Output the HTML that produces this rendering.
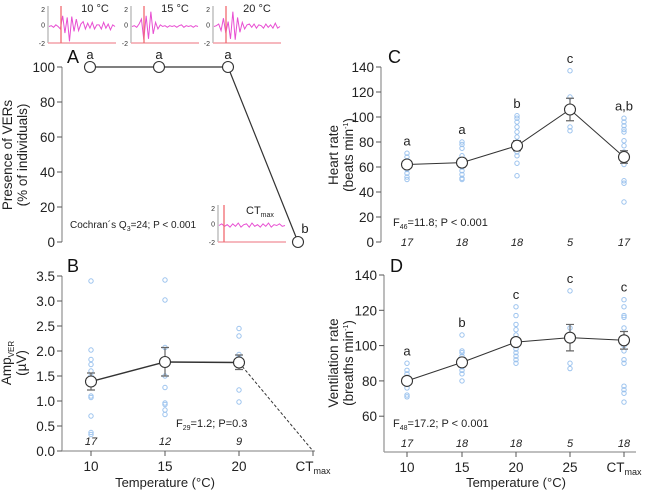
<!DOCTYPE html>
<html><head><meta charset="utf-8"><style>
body{margin:0;background:#fff}
svg{display:block;font-family:"Liberation Sans",Arial,sans-serif}
</style></head><body>
<svg id="fig" width="647" height="492" viewBox="0 0 647 492"></svg>
<script>
// Panel A data
const catsA = ["10","15","20","CTmax"];
const presence = [100,100,100,0];
const lettersA = ["a","a","a","b"];
// Panel B data
const catsB = ["10","15","20","CTmax"];
const ampMean = [1.39,1.78,1.77];
const ampLo = [1.22,1.50,1.63];
const ampHi = [1.56,2.07,1.92];
const ampPts = [[3.4,2.02,1.83,1.73,1.6,1.5,1.45,1.4,1.1,1.07,0.7,0.37,0.33],[3.42,3.02,2.07,1.5,1.27,0.96,0.93,0.82,0.73],[2.45,2.3,1.93,1.87,1.22,0.98]];
const nB = ["17","12","9"];
// Panel C data
const catsC = ["10","15","20","25","CTmax"];
const hrMean = [62,63.5,77,106,68];
const hrLo = [59,60,73,97,63];
const hrHi = [65,67,81,115,73];
const hrPts = [[71,68,65,62,58,55,52,50],[80,78,75,69,66,60,57,54,51,50],[101,99,96,92,88,84,80,76,72,69,63,53],[137,116,92,89],[99,96,93,90,88,81,77,72,65,62,49,47,32]];
const lettersC = ["a","a","b","c","a,b"];
const nC = ["17","18","18","5","17"];
// Panel D data
const vrMean = [80,90.5,102,104.5,103];
const vrLo = [78,88,100,97,98];
const vrHi = [82,93,104,112,108];
const vrPts = [[90,86,84,82,78,76,72,71],[106,97,96,94,92,90,88,86,84,80],[122,117,112,109,106,104,100,98,96,94,92,90],[131,110,90,87],[126,122,117,116,110,104,100,97,92,90,77,75,73,68]];
const lettersD = ["a","b","c","c","c"];
const nD = ["17","18","18","5","18"];
const ticksA = [0,20,40,60,80,100];
const ticksB = [0,0.5,1,1.5,2,2.5,3,3.5];
const ticksC = [0,20,40,60,80,100,120,140];
const ticksD = [60,80,100,120,140];
// inset waveforms (decorative)
const w10 = [0,0.1,-0.1,0.2,0,-0.3,1.3,-0.8,1.1,-1.8,1.2,-0.6,0.9,-0.5,0.3,0.6,-0.3,0.4,-0.2,0.5,-0.3,0.2,0.2,-0.3,0.5,-0.2,0.3,-0.4,0.2,0];
const w15 = [0,0.1,-0.1,0.3,0.9,-1.6,1.3,-1.5,1.8,-0.9,0.5,-0.3,0.2,0,0.1,-0.1,0.1,0,0.1,-0.1,0.1,0.2,-0.1,0.1,0,0.1,-0.1,0.1,0];
const w20 = [0,0.1,0.3,-0.5,1,-0.8,0.6,-1.5,1.8,-1.6,1.1,-0.7,0.5,-0.3,0.2,0.3,-0.1,0.3,-0.2,0.2,0.1,-0.2,0.3,-0.1,0.2,-0.2,0.4,-0.2,0];
const wCT = [0,0.2,-0.1,0.1,-0.2,0.2,-0.1,0.3,-0.2,0.1,0.2,-0.2,0.3,-0.1,0.1,-0.2,0.2,-0.1,0.3,-0.2,0.1,0,0.2,-0.1,0];

const S = document.getElementById('fig');
const NS = 'http://www.w3.org/2000/svg';
function mk(tag, at, parent, txt){const e=document.createElementNS(NS,tag);for(const k in at)e.setAttribute(k,at[k]);if(txt!==undefined)e.textContent=txt;(parent||S).appendChild(e);return e;}
function lin(d0,d1,r0,r1){return v=>r0+(v-d0)*(r1-r0)/(d1-d0);}

function yAxis(g,x,sc,ticks,fmt,top,bot){
  const ax=mk('line',{x1:x,x2:x,y1:top,y2:bot,stroke:'#999','stroke-width':1.3},g);
  
  ticks.forEach(t=>{
    const l=mk('line',{x1:x-5,x2:x,y1:sc(t),y2:sc(t),stroke:'#555'},g);
    
    const tx=mk('text',{x:x-7,y:sc(t)+5,'text-anchor':'end','font-size':13.5,fill:'#222'},g,fmt(t));
    
  });
}
function xAxis(g,y,x0,x1,xs,cats){
  const ax=mk('line',{x1:x0,x2:x1,y1:y,y2:y,stroke:'#999','stroke-width':1.3},g);
  
  cats.forEach((c,i)=>{
    const l=mk('line',{x1:xs[i],x2:xs[i],y1:y,y2:y+5,stroke:'#555'},g);
    
    const t=mk('text',{x:xs[i],y:y+20,'text-anchor':'middle','font-size':13.5,fill:'#222'},g);
    
    if(c==='CTmax'){t.textContent='CT';mk('tspan',{'font-size':9,dy:3},t,'max');}else t.textContent=c;
  });
}
function dots(g,xs,sc,pts){
  pts.forEach((arr,i)=>arr.forEach(v=>{
    const c=mk('circle',{cx:xs[i],cy:sc(v),r:2.2,fill:'none',stroke:'#9cc3ee','stroke-width':1},g);
    
  }));
}
function errs(g,xs,sc,lo,hi){
  lo.forEach((v,i)=>{
    const e=mk('path',{d:`M${xs[i]},${sc(v)}V${sc(hi[i])}M${xs[i]-4},${sc(v)}h8M${xs[i]-4},${sc(hi[i])}h8`,stroke:'#666','stroke-width':1.2,fill:'none'},g);
    
  });
}
function meanLine(g,xs,sc,m,w){
  const p=mk('polyline',{points:m.map((v,i)=>xs[i]+','+sc(v)).join(' '),fill:'none',stroke:'#333','stroke-width':w||1},g);
  
  m.forEach((v,i)=>{
    const c=mk('circle',{cx:xs[i],cy:sc(v),r:5.5,fill:'#fff',stroke:'#333','stroke-width':1.1},g);
    
  });
}
function labels(g,xs,ys,arr,dy,name,italic,size){
  arr.forEach((t,i)=>{
    const e=mk('text',{x:xs[i],y:ys(i)+dy,'text-anchor':'middle','font-size':size||13,fill:'#222','font-style':italic?'italic':'normal'},g,t);
    
  });
}
function ytitle(g,x,y,l1,l2){
  const t=mk('text',{transform:`translate(${x},${y}) rotate(-90)`,'text-anchor':'middle','font-size':13.5,fill:'#222'},g);
  
  mk('tspan',{x:0,y:0},t,l1);
  mk('tspan',{x:0,y:15},t,l2);
  return t;
}
function inset(x0,y0,wave,label,lblx,name){
  const g=mk('g',{});
  const h=37,w=68;
  mk('line',{x1:x0,x2:x0,y1:y0,y2:y0+h,stroke:'#888','stroke-width':0.8},g);
  mk('line',{x1:x0,x2:x0+w,y1:y0+h,y2:y0+h,stroke:'#f4a0a8','stroke-width':1.5},g);
  [['2',4],['0',h/2+1],['-2',h+1]].forEach(a=>mk('text',{x:x0-3,y:y0+a[1]+2,'text-anchor':'end','font-size':7,fill:'#333'},g,a[0]));
  const sy=lin(-2,2,y0+h,y0+4);
  const sx=i=>x0+1+i*(w-2)/(wave.length-1);
  mk('polyline',{points:wave.map((v,i)=>sx(i)+','+sy(v)).join(' '),fill:'none',stroke:'#e84fd2','stroke-width':1},g);
  const rx = name==='inset-ctmax'?x0+6:x0+13;
  mk('line',{x1:rx,x2:rx,y1:y0,y2:y0+h,stroke:'#f06a70','stroke-width':1.3},g);
  const t=mk('text',{x:lblx,y:y0+6,'text-anchor':'middle','font-size':11,fill:'#222'},g,label);
  return t;
}

// ---------- Panel A ----------
const gA=mk('g',{});
const xA=[90,159,228,298];
const yA=lin(0,100,242,67);
yAxis(gA,62,yA,ticksA,t=>String(t),67,242);
meanLine(gA,xA,yA,presence,1.2);
labels(gA,xA,i=>yA(presence[i]),lettersA,-8,'significance-letter');
gA.lastChild.setAttribute('x',305);gA.lastChild.setAttribute('y',233);
mk('text',{x:67,y:63,'font-size':18,fill:'#111'},gA,'A');
ytitle(gA,12,155,'Presence of VERs','(% of individuals)');
const stA=mk('text',{x:70,y:228,'font-size':10,fill:'#222'},gA,'Cochran´s Q');

mk('tspan',{'font-size':7,dy:3},stA,'3');mk('tspan',{dy:-3},stA,'=24; P < 0.001');
inset(48,6,w10,'10 °C',95,'inset-10c');
inset(131,6,w15,'15 °C',175,'inset-15c');
inset(213,6,w20,'20 °C',257,'inset-20c');
const ct=inset(218,205,wCT,'CT',0,'inset-ctmax');
ct.setAttribute('x',246);ct.setAttribute('text-anchor','start');ct.setAttribute('y',214);
mk('tspan',{'font-size':7,dy:3},ct,'max');

// ---------- Panel B ----------
const gB=mk('g',{});
const xB=[91,165,239,313];
const yB=lin(0,3.5,451,276);
yAxis(gB,62,yB,ticksB,t=>t.toFixed(1),276,451);
xAxis(gB,451,62,315,xB,catsB);
dots(gB,xB,yB,ampPts);
errs(gB,xB,yB,ampLo,ampHi);
const dash=mk('line',{x1:xB[2],y1:yB(ampMean[2]),x2:xB[3],y2:yB(0),stroke:'#333','stroke-dasharray':'3,2'},gB);

meanLine(gB,xB,yB,ampMean,1.4);
labels(gB,xB,i=>445,nB,0,'sample-size',true,11);
mk('text',{x:67,y:272,'font-size':18,fill:'#111'},gB,'B');
const tb=mk('text',{transform:'translate(11,363) rotate(-90)','text-anchor':'middle','font-size':13.5,fill:'#222'},gB);

mk('tspan',{x:0,y:0},tb,'Amp');mk('tspan',{'font-size':8,dy:3},tb,'VER');
mk('tspan',{x:0,y:15},tb,'(µV)');
const stB=mk('text',{x:176,y:427,'font-size':11,fill:'#222'},gB,'F');

mk('tspan',{'font-size':7,dy:3},stB,'29');mk('tspan',{dy:-3},stB,'=1.2; P=0.3');
const xtB=mk('text',{x:165,y:487,'text-anchor':'middle','font-size':13,fill:'#222'},gB,'Temperature (°C)');


// ---------- Panel C ----------
const gC=mk('g',{});
const xC=[407,462,517,570,624];
const yC=lin(0,140,242,67);
yAxis(gC,381,yC,ticksC,t=>String(t),67,242);
dots(gC,xC,yC,hrPts);
errs(gC,xC,yC,hrLo,hrHi);
meanLine(gC,xC,yC,hrMean,1);
labels(gC,xC,i=>yC(Math.max(...hrPts[i])),lettersC,-8,'significance-letter');
labels(gC,xC,i=>246,nC,0,'sample-size',true,11);
mk('text',{x:388,y:63,'font-size':18,fill:'#111'},gC,'C');
const tc=ytitle(gC,338,155,'Heart rate','');
tc.lastChild.textContent='(beats min';mk('tspan',{'font-size':7,dy:-5},tc,'-1');mk('tspan',{dy:5},tc,')');
const stC=mk('text',{x:393,y:226,'font-size':11,fill:'#222'},gC,'F');

mk('tspan',{'font-size':7,dy:3},stC,'46');mk('tspan',{dy:-3},stC,'=11.8; P < 0.001');

// ---------- Panel D ----------
const gD=mk('g',{});
const xD=[407,462,516,570,624];
const yD=lin(40,140,451.5,275);
yAxis(gD,384,yD,ticksD,t=>String(t),275,452);
xAxis(gD,452,384,636,xD,catsC);
dots(gD,xD,yD,vrPts);
errs(gD,xD,yD,vrLo,vrHi);
meanLine(gD,xD,yD,vrMean,1);
labels(gD,xD,i=>yD(Math.max(...vrPts[i])),lettersD,-8,'significance-letter');
labels(gD,xD,i=>447,nD,0,'sample-size',true,11);
mk('text',{x:390,y:272,'font-size':18,fill:'#111'},gD,'D');
const td=ytitle(gD,338,363,'Ventilation rate','');
td.lastChild.textContent='(breaths min';mk('tspan',{'font-size':7,dy:-5},td,'-1');mk('tspan',{dy:5},td,')');
const stD=mk('text',{x:393,y:427,'font-size':11,fill:'#222'},gD,'F');

mk('tspan',{'font-size':7,dy:3},stD,'48');mk('tspan',{dy:-3},stD,'=17.2; P < 0.001');
const xtD=mk('text',{x:516,y:487,'text-anchor':'middle','font-size':13,fill:'#222'},gD,'Temperature (°C)');

</script>
</body></html>
